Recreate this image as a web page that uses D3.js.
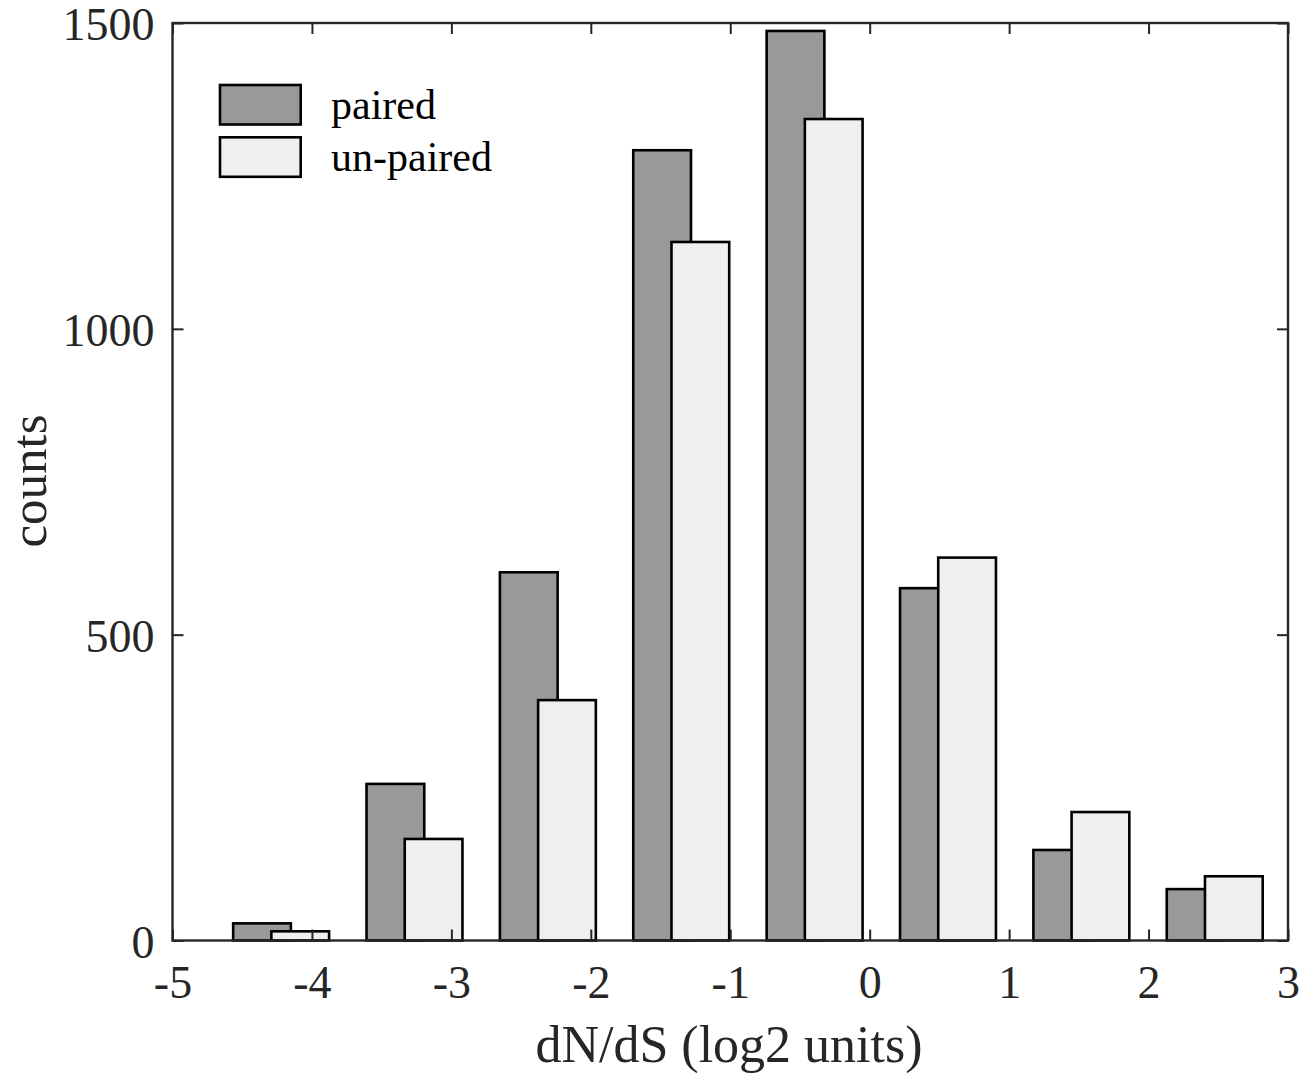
<!DOCTYPE html>
<html>
<head>
<meta charset="utf-8">
<script src="https://cdn.jsdelivr.net/npm/d3@7"></script>
<style>
  html, body { margin: 0; padding: 0; background: #fff; }
  svg { display: block; }
  .axis text { font-family: "Liberation Serif", "Times New Roman", serif; fill: #262626; }
</style>
</head>
<body>
<svg id="chart" width="1302" height="1077"></svg>
<script>
// Histogram bin centres (log2 dN/dS) and counts per group
const binCenters = [-4.221, -3.2645, -2.308, -1.3515, -0.395, 0.5615, 1.518, 2.4745];
const pairedCounts = [28, 256, 602, 1292, 1487, 576, 148, 84];
const unpairedCounts = [15, 166, 393, 1142, 1343, 626, 210, 105];
const seriesNames = ["paired", "un-paired"];
const xTicks = [-5, -4, -3, -2, -1, 0, 1, 2, 3];
const yTicks = [0, 500, 1000, 1500];

const barWidth = 0.414;   // in x units
const barShift = 0.137;   // half-distance between paired / un-paired bar centres
const fills = ["#999999", "#efefef"];
const axisColor = "#262626";
const serif = "'Liberation Serif', 'Times New Roman', serif";

const svg = d3.select("#chart");
const L = 172.5, R = 1288, T = 23, B = 940.5;

const x = d3.scaleLinear().domain([-5, 3]).range([L, R]);
const y = d3.scaleLinear().domain([0, 1500]).range([B, T]);

// plain hyphen for negative tick labels
const fmt = d => String(d);

// bars
const series = [pairedCounts, unpairedCounts];
series.forEach((vals, s) => {
  const dx = s === 0 ? -barShift : barShift;
  svg.append("g").selectAll("rect")
    .data(vals.map((v, i) => ({ c: binCenters[i], v })))
    .join("rect")
    .attr("x", d => x(d.c + dx - barWidth / 2))
    .attr("width", d => x(d.c + dx + barWidth / 2) - x(d.c + dx - barWidth / 2))
    .attr("y", d => y(d.v))
    .attr("height", d => y(0) - y(d.v))
    .attr("fill", fills[s])
    .attr("stroke", "#000")
    .attr("stroke-width", 2.6);
});

// axes with inward ticks, boxed
const tickLen = 11;
function styleAxis(g) {
  g.select(".domain").remove();
  g.selectAll(".tick line").attr("stroke", axisColor).attr("stroke-width", 2);
}
svg.append("g").attr("class", "axis")
  .attr("transform", `translate(0,${B})`)
  .call(d3.axisBottom(x).tickValues(xTicks).tickSize(-tickLen).tickPadding(25).tickFormat(fmt))
  .call(styleAxis)
  .call(g => g.selectAll("text").attr("font-size", 46));
svg.append("g").attr("class", "axis")
  .attr("transform", `translate(0,${T})`)
  .call(d3.axisTop(x).tickValues(xTicks).tickSize(-tickLen).tickFormat(""))
  .call(styleAxis);
svg.append("g").attr("class", "axis")
  .attr("transform", `translate(${L},0)`)
  .call(d3.axisLeft(y).tickValues(yTicks).tickSize(-tickLen).tickPadding(18).tickFormat(fmt))
  .call(styleAxis)
  .call(g => g.selectAll("text").attr("font-size", 46).attr("dy", "0.36em"));
svg.append("g").attr("class", "axis")
  .attr("transform", `translate(${R},0)`)
  .call(d3.axisRight(y).tickValues(yTicks).tickSize(-tickLen).tickFormat(""))
  .call(styleAxis);

svg.append("rect")
  .attr("x", L).attr("y", T).attr("width", R - L).attr("height", B - T)
  .attr("fill", "none").attr("stroke", axisColor).attr("stroke-width", 2.4);

// axis titles
svg.append("text")
  .attr("x", 729).attr("y", 1062)
  .attr("text-anchor", "middle")
  .attr("font-family", serif)
  .attr("font-size", 52).attr("fill", axisColor)
  .text("dN/dS (log2 units)");
svg.append("text")
  .attr("transform", "translate(46,481) rotate(-90)")
  .attr("text-anchor", "middle")
  .attr("font-family", serif)
  .attr("font-size", 51).attr("fill", axisColor)
  .text("counts");

// legend
const legend = svg.append("g");
seriesNames.forEach((name, i) => {
  const y0 = 85 + i * 52.3;
  legend.append("rect")
    .attr("x", 220).attr("y", y0).attr("width", 80.7).attr("height", 39.5)
    .attr("fill", fills[i]).attr("stroke", "#000").attr("stroke-width", 2.6);
  legend.append("text")
    .attr("x", 331).attr("y", y0 + 34)
    .attr("font-family", serif)
    .attr("font-size", 42).attr("fill", "#000")
    .text(name);
});
</script>
</body>
</html>
